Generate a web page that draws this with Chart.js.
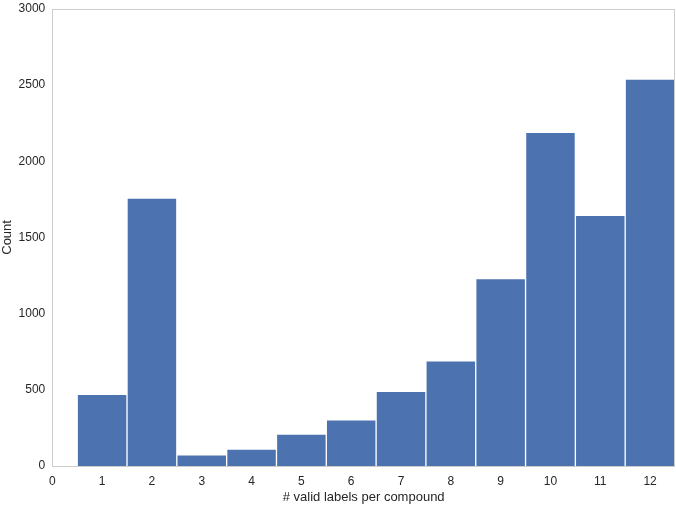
<!DOCTYPE html>
<html>
<head>
<meta charset="utf-8">
<script src="https://cdn.jsdelivr.net/npm/chart.js@4.4.0/dist/chart.umd.min.js"></script>
<style>
  html, body { margin: 0; padding: 0; background: #fff; }
</style>
</head>
<body>
<canvas id="histChart" width="676" height="507"></canvas>
<script>
// histogram data: labels per compound vs count
const labelsPerCompound = [1, 2, 3, 4, 5, 6, 7, 8, 9, 10, 11, 12];
const counts = [471, 1758, 74, 111, 210, 303, 490, 690, 1230, 2189, 1645, 2539];
const xTicks = [0, 1, 2, 3, 4, 5, 6, 7, 8, 9, 10, 11, 12];
const yTicks = [0, 500, 1000, 1500, 2000, 2500, 3000];

// box round the plot area
const frameBox = {
    id: 'frameBox',
    afterDraw(chart) {
        const a = chart.chartArea;
        const ctx = chart.ctx;
        ctx.save();
        ctx.strokeStyle = '#cccccc';
        ctx.lineWidth = 1;
        ctx.strokeRect(Math.round(a.left) + 0.5, Math.round(a.top) + 0.5,
            Math.round(a.right - a.left) - 1, Math.round(a.bottom - a.top));
        ctx.restore();
    }
};

Chart.defaults.font.family = '"Liberation Sans", Arial, sans-serif';
Chart.defaults.font.size = 12;
Chart.defaults.color = '#262626';

var ctx = document.getElementById('histChart').getContext('2d');
const histChart = new Chart(ctx, {
    type: 'bar',
    data: {
        datasets: [{
            data: labelsPerCompound.map((x, i) => ({x: x, y: counts[i]})),
            backgroundColor: '#4c72b0',
            borderColor: 'rgba(255,255,255,0.35)',
            borderWidth: 1,
            barPercentage: 1,
            categoryPercentage: 1
        }]
    },
    options: {
        responsive: false,
        animation: false,
        layout: { padding: { top: 3, right: 1, left: 0, bottom: 0 } },
        plugins: {
            legend: { display: false },
            tooltip: { enabled: false }
        },
        scales: {
            x: {
                type: 'linear',
                min: 0,
                max: 12.5,
                offset: false,
                grid: { display: false, drawTicks: false },
                border: { display: false },
                afterBuildTicks: (axis) => {
                    axis.ticks = xTicks.map(v => ({value: v}));
                },
                ticks: { padding: 8, maxRotation: 0, autoSkip: false, callback: (v) => String(v) },
                title: { display: true, text: '# valid labels per compound', font: { size: 13 }, padding: { top: -7, bottom: 2 } }
            },
            y: {
                min: 0,
                max: 3000,
                grid: { display: false, drawTicks: false },
                border: { display: false },
                afterBuildTicks: (axis) => {
                    axis.ticks = yTicks.map(v => ({value: v}));
                },
                ticks: { padding: 7, font: { lineHeight: 0.3 }, callback: (v) => String(v) },
                title: { display: true, text: 'Count', font: { size: 13 }, padding: { top: 0, bottom: -4 } }
            }
        }
    },
    plugins: [frameBox]
});
</script>
</body>
</html>
